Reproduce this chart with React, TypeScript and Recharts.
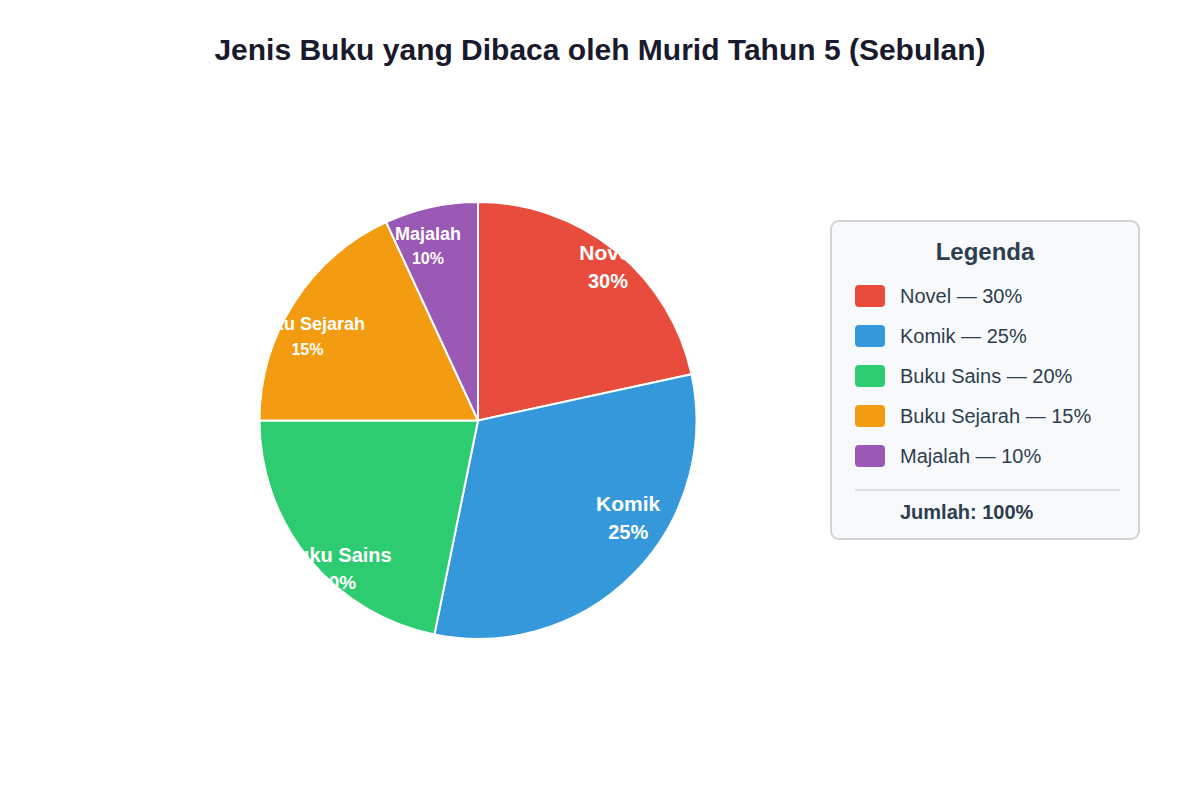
import { PieChart, Pie, Cell } from 'recharts';

// data
const BOOK_TYPES = ['Novel', 'Komik', 'Buku Sains', 'Buku Sejarah', 'Majalah'];
// size of each slice as drawn (share of the circle, %)
const SLICE_SHARE = [21.6, 31.6, 21.8, 18.1, 6.9];
// percentages written in labels and legend
const LABEL_PCT = [30, 25, 20, 15, 10];
const TOTAL_TEXT = 'Jumlah: 100%';

const COLORS = ['#e74c3c', '#3498db', '#2ecc71', '#f39c12', '#9b59b6'];
const FONT = '"Liberation Sans", Arial, sans-serif';
const RADIAN = Math.PI / 180;

// label placement tweaks (deg offset from mid angle, radius factor, font sizes, line gap)
const LABEL_STYLE = [
  { dAng: -1.4, rf: 0.92, nameSize: 21, pctSize: 20, gap: 28.5 },
  { dAng: 11.6, rf: 0.82, nameSize: 21, pctSize: 20, gap: 28.5 },
  { dAng: 7.2, rf: 0.935, nameSize: 20, pctSize: 19, gap: 27 },
  { dAng: 6.4, rf: 0.87, nameSize: 18, pctSize: 16, gap: 26 },
  { dAng: 3.6, rf: 0.83, nameSize: 18, pctSize: 16, gap: 25 },
];

const data = BOOK_TYPES.map((name, i) => ({ name, value: SLICE_SHARE[i], pct: LABEL_PCT[i] }));

const renderLabel = (props: any) => {
  const { cx, cy, midAngle, outerRadius, index } = props;
  const s = LABEL_STYLE[index];
  const ang = (midAngle + s.dAng) * RADIAN;
  const r = outerRadius * s.rf;
  const x = cx + r * Math.cos(-ang);
  const y = cy + r * Math.sin(-ang);
  return (
    <g key={`lbl-${index}`}>
      <text x={x} y={y - s.gap / 2} fill="#fff" textAnchor="middle" dominantBaseline="central"
        fontFamily={FONT} fontWeight="bold" fontSize={s.nameSize}>
        {BOOK_TYPES[index]}
      </text>
      <text x={x} y={y + s.gap / 2} fill="#fff" textAnchor="middle" dominantBaseline="central"
        fontFamily={FONT} fontWeight="bold" fontSize={s.pctSize}>
        {`${LABEL_PCT[index]}%`}
      </text>
    </g>
  );
};

function LegendBox() {
  return (
    <div style={{ position: 'absolute', left: 830, top: 220, width: 310, height: 320, fontFamily: FONT, color: '#2c3e50' }}>
      <div style={{ position: 'absolute', inset: 0, border: '2px solid #d0d4d8', borderRadius: 9, background: '#f8f9fa' }} />
      <div style={{ position: 'absolute', left: 0, width: 310, top: 17, lineHeight: '30px', fontSize: 24, fontWeight: 'bold', textAlign: 'center' }}>
        Legenda
      </div>
      {BOOK_TYPES.map((name, i) => {
        const cyRow = 76 + 40 * i;
        return (
          <div key={name}>
            <div style={{ position: 'absolute', left: 25, top: cyRow - 11, width: 30, height: 22, borderRadius: 4, background: COLORS[i] }} />
            <div style={{ position: 'absolute', left: 70, top: cyRow - 12, lineHeight: '24px', fontSize: 20, whiteSpace: 'nowrap' }}>
              {`${name} — ${LABEL_PCT[i]}%`}
            </div>
          </div>
        );
      })}
      <div style={{ position: 'absolute', left: 25, top: 269, width: 265, height: 1.5, background: '#dcdfe2' }} />
      <div style={{ position: 'absolute', left: 70, top: 280, lineHeight: '24px', fontSize: 20, fontWeight: 'bold', whiteSpace: 'nowrap' }}>
        {TOTAL_TEXT}
      </div>
    </div>
  );
}

export default function App() {
  return (
    <div style={{ position: 'absolute', left: 0, top: 0, width: 1200, height: 800, background: '#fff', fontFamily: FONT }}>
      <div style={{ position: 'absolute', left: 0, width: 1200, top: 32.5, lineHeight: '34px', textAlign: 'center', fontSize: 30, fontWeight: 'bold', color: '#1a1a2e' }}>
        Jenis Buku yang Dibaca oleh Murid Tahun 5 (Sebulan)
      </div>
      <div style={{ position: 'absolute', left: 0, top: 0 }}>
        <PieChart width={1200} height={800} margin={{ top: 0, right: 0, bottom: 0, left: 0 }}>
          <Pie
            data={data}
            dataKey="value"
            nameKey="name"
            cx={478}
            cy={420.5}
            outerRadius={218.5}
            startAngle={90}
            endAngle={-270}
            stroke="#fff"
            strokeWidth={2}
            label={renderLabel}
            labelLine={false}
            isAnimationActive={false}
          >
            {data.map((_, i) => (
              <Cell key={`cell-${i}`} fill={COLORS[i]} />
            ))}
          </Pie>
        </PieChart>
      </div>
      <LegendBox />
    </div>
  );
}
